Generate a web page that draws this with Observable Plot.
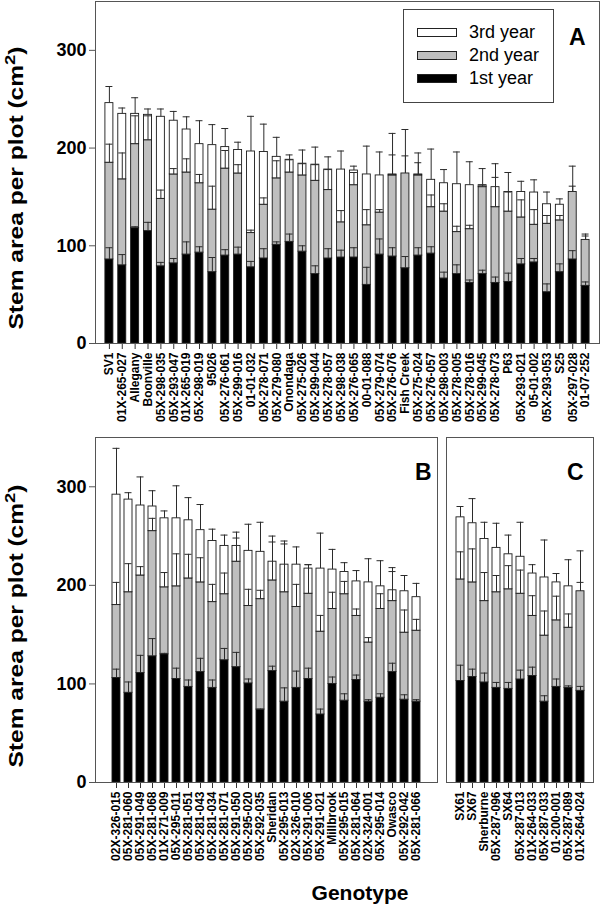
<!DOCTYPE html>
<html><head><meta charset="utf-8">
<script src="https://cdn.jsdelivr.net/npm/d3@7"></script>
<script src="https://cdn.jsdelivr.net/npm/@observablehq/plot@0.6"></script>
<style>
body{margin:0;background:#fff;font-family:"Liberation Sans",Arial,sans-serif;}
#wrap{position:relative;width:600px;height:906px;overflow:hidden;background:#fff;}
#wrap > svg, #wrap > div{position:absolute;}
.pl g[aria-label="x-axis tick label"]{font-size:12px;font-weight:bold;}
.pl g[aria-label="y-axis tick label"]{font-size:18px;font-weight:bold;}
</style></head>
<body><div id="wrap"></div>
<script>
// ---------- data ----------
const yearNames = ["1st year", "2nd year", "3rd year"];
const yearColors = ["#000000", "#bfbfbf", "#ffffff"];
const yTicks = [0, 100, 200, 300];

const genotypesA = ["SV1","01X-265-027","Allegany","Boonville","05X-298-035","05X-293-047","01X-265-019","05X-298-019","95026","05X-276-061","05X-299-016","01-01-032","05X-278-071","05X-279-080","Onondaga","05X-275-026","05X-299-044","05X-278-057","05X-298-038","05X-276-065","00-01-088","05X-279-074","05X-276-076","Fish Creek","05X-275-024","05X-276-057","05X-298-003","05X-278-005","05X-278-016","05X-299-045","05X-278-073","P63","05X-293-021","05-01-002","05X-293-053","S25","05X-297-028","01-07-252"];
const year1A = [86,80,118,115,79,82,91,93,73,90,91,78,87,101,104,94,71,87,88,88,60,91,89,77,90,92,66.5,71,62,71,62,63,81,83,52.5,73,86,59];
const year2A = [99,88,86,93,69,91,84,71,64,89,83,35,55,68,71,78,95.5,70,36,74,61,43,83,97,82,47.5,68.5,43,55,89,77.5,72,48,38.5,70,53,69,47];
const year3A = [61,67,31,26,84,55,44,40,66,22,24,83.5,54,22,13,12,16.5,21,54,15,52,38,1,0,1,28,29,49,45,2,20.5,20,26,33,20,16,0,0];
const se1A = [12,11,1.5,9,4,5,13,6,15,6,7.6,6,10,3,8,6,8.5,10,7.5,10,18,16,9,12,8,7,6.5,9.5,3,4,6,9,6,4,8.5,8.5,9,4];
const se2A = [19,27,29,25,9,6,14,9,24,18.5,9,3,7,18,13,12,16.5,21,12,13,16,3,21,18,13,12.5,8,6,4,2,30.5,20,18,15.5,8.5,5,6,6];
const se3A = [17,6,16.5,6,8,9.5,13,24,21,19,8,36,28.5,20,5,14,18,13,19,4.5,29,24,42,45,22,31.5,14,33,24,17,24,20,11,13,12.5,6,26.5,4];

const genotypesB = ["02X-326-015","05X-281-060","05X-291-049","05X-281-068","01X-271-009","05X-295-011","05X-281-051","05X-281-043","05X-281-034","05X-281-071","05X-291-050","05X-295-020","05X-292-035","Sheridan","05X-295-013","02X-326-010","05X-291-006","05X-291-021","Millbrook","05X-295-015","05X-281-064","02X-324-001","05X-295-014","Owasco","05X-292-042","05X-281-066"];
const year1B = [106,91,111,128,130,105,97,112,96,124,117,100.5,74,113,82,96,105,69,100,83,104,82,86,112,84,82];
const year2B = [74,102,99,127,68,94,110,91,87,67,107,78.5,112,92,111,82,86.5,84,76,108,65,60,90,72,68,72];
const year3B = [112,94,71,25,70,69,59,53,62,49,16,56,48,19,28,43,25.5,64,40,22.5,35,61,23,11,42,34];
const se1B = [9,11,18,18,1,11,7,14,8,12,15,4.5,0.5,5,14,17,11,5.5,7,7,5,2,4,9,5,2];
const se2B = [23,29,9,13,15,33,24.5,25,18,21.5,24,17,9,39,49,23,29.5,16.5,17,13,7,5,15.5,30,23,11.5];
const se3B = [47,7,29,16,7.5,33,23,26,12,11,14,27,30,26,24,18,4,36,20.5,9.5,11,24,26,23,16,14];

const genotypesC = ["SX61","SX67","Sherburne","05X-287-096","SX64","05X-287-013","01X-264-033","05X-287-033","01-200-001","05X-287-089","01X-264-024"];
const year1C = [103,107,101.5,96,95,104.5,108,82,97,96,93];
const year2C = [103,96,82.5,97,101,87,61,67,67.5,61,101];
const year3C = [63,60,63,45,35.5,37.5,43,59,38.5,42,0];
const se1C = [16,8,9.5,5.5,6.5,9.5,9,6,8,2,4.5];
const se2C = [28,34,29,17,24,24,20.5,25,24.5,14,9];
const se3C = [11,25,17,25,19.5,35,9,38,9,27,41];

// ---------- helpers ----------
function build(gen, y1, y2, y3, e1, e2, e3) {
  const bars = [], errs = [];
  gen.forEach((g, i) => {
    const t1 = y1[i], t2 = t1 + y2[i], t3 = t2 + y3[i];
    bars.push({g, year: yearNames[0], lo: 0, hi: t1});
    bars.push({g, year: yearNames[1], lo: t1, hi: t2});
    bars.push({g, year: yearNames[2], lo: t2, hi: t3});
    errs.push({g, top: t1, err: t1 + e1[i]});
    errs.push({g, top: t2, err: t2 + e2[i]});
    errs.push({g, top: t3, err: t3 + e3[i]});
  });
  return {bars, errs};
}

const wrap = document.getElementById("wrap");

function panel(o) {
  const {bars, errs} = build(...o.data);
  const marks = [
    Plot.barY(bars, {x: "g", y1: "lo", y2: "hi", fill: "year", stroke: "#1a1a1a", strokeWidth: 0.9}),
    Plot.ruleX(errs, {x: "g", y1: "top", y2: "err", stroke: "#2b2b2b", strokeWidth: 1}),
    Plot.tickY(errs, {x: "g", y: "err", stroke: "#2b2b2b", strokeWidth: 1, insetLeft: 0.5, insetRight: 0.5}),
    Plot.axisX({tickRotate: -90, tickSize: 6, tickPadding: 3, fontSize: 12, fontWeight: "bold", label: null, stroke: "#333"}),
    Plot.frame({stroke: "#555", strokeWidth: 1}),
    Plot.text([o.letter], {frameAnchor: "top-right", textAnchor: "end", lineAnchor: "top", dx: o.ldx, dy: o.ldy, fontSize: 23, fontWeight: "bold", fill: "#000"})
  ];
  if (o.yaxis) marks.push(Plot.axisY({ticks: yTicks, tickSize: 6, tickPadding: 3, fontSize: 18, fontWeight: "bold", label: null, stroke: "#555"}));
  const svg = Plot.plot({
    width: o.width, height: o.height,
    marginLeft: o.ml, marginRight: o.mr, marginTop: o.mt, marginBottom: o.mb,
    style: {fontFamily: "'Liberation Sans', Arial, sans-serif", color: "#000", background: "transparent", overflow: "visible"},
    x: {domain: o.data[0], paddingInner: o.pi, paddingOuter: o.po, label: null},
    y: {domain: [0, 350], label: null, axis: o.yaxis ? undefined : null},
    color: {domain: yearNames, range: yearColors},
    marks
  });
  svg.classList.add("pl");
  svg.style.left = o.left + "px";
  svg.style.top = o.top + "px";
  wrap.appendChild(svg);
}

panel({data: [genotypesA, year1A, year2A, year3A, se1A, se2A, se3A], letter: "A",
  left: 0, top: 0, width: 600, height: 445, ml: 95, mr: 1, mt: 1, mb: 102,
  pi: 0.38, po: 0.77, ldx: -14, ldy: 27, yaxis: true});
panel({data: [genotypesB, year1B, year2B, year3B, se1B, se2B, se3B], letter: "B",
  left: 0, top: 432, width: 440, height: 474, ml: 95, mr: 3, mt: 5, mb: 124,
  pi: 0.36, po: 0.64, ldx: -6, ldy: 26, yaxis: true});
panel({data: [genotypesC, year1C, year2C, year3C, se1C, se2C, se3C], letter: "C",
  left: 440, top: 432, width: 160, height: 474, ml: 6, mr: 7, mt: 5, mb: 124,
  pi: 0.37, po: 0.72, ldx: -10, ldy: 26, yaxis: false});

// ---------- legend (panel A) ----------
const legend = document.createElement("div");
legend.style.cssText = "left:403px;top:9px;width:151px;height:94px;border:1px solid #444;box-sizing:border-box;background:#fff;";
const order = [2, 1, 0];
order.forEach((k, j) => {
  const sw = document.createElement("div");
  sw.style.cssText = `position:absolute;left:13px;top:${18 + j * 23}px;width:40px;height:9px;border:1px solid #222;box-sizing:border-box;background:${yearColors[k]};`;
  const tx = document.createElement("div");
  tx.textContent = yearNames[k];
  tx.style.cssText = `position:absolute;left:65px;top:${11 + j * 23}px;font-size:18px;line-height:22px;color:#000;white-space:nowrap;font-family:'Liberation Sans',Arial,sans-serif;`;
  legend.appendChild(sw); legend.appendChild(tx);
});
wrap.appendChild(legend);

// ---------- axis titles ----------
const ov = d3.create("svg").attr("width", 600).attr("height", 906)
  .style("left", "0px").style("top", "0px").style("pointer-events", "none")
  .attr("font-family", "'Liberation Sans', Arial, sans-serif");
function ylab(cy) {
  const t = ov.append("text")
    .attr("transform", `translate(23,${cy}) rotate(-90)`)
    .attr("text-anchor", "middle").attr("font-size", 20).attr("font-weight", "bold")
    .attr("textLength", 283).attr("lengthAdjust", "spacingAndGlyphs");
  t.append("tspan").text("Stem area per plot (cm");
  t.append("tspan").attr("dy", -8).attr("font-size", 15).text("2");
  t.append("tspan").attr("dy", 8).text(")");
}
ylab(188);
ylab(626);
ov.append("text").attr("x", 360).attr("y", 900).attr("text-anchor", "middle")
  .attr("font-size", 21).attr("font-weight", "bold").text("Genotype");
wrap.appendChild(ov.node());
</script>
</body></html>
